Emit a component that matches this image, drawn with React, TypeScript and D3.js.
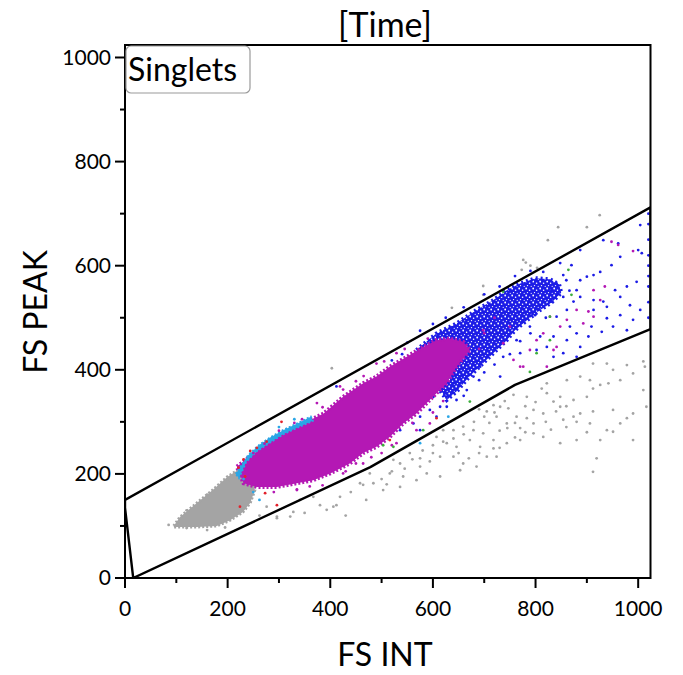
import * as d3 from "d3";

// Layout of the dot plot (pixels)
const W = 683;
const H = 675;
const PLOT = { left: 125, right: 650.5, top: 45, bottom: 578 };
const FONT = "Lato, 'DejaVu Sans', sans-serif";

// Axis values
const DOMAIN: [number, number] = [0, 1024];
const MAJOR_TICKS = [0, 200, 400, 600, 800, 1000];
const MINOR_TICKS = [100, 300, 500, 700, 900];

// Singlets gate (FS INT, FS PEAK)
const GATE: [number, number][] = [
  [0, 150], [1024, 712], [1024, 478], [760, 371], [478, 213], [16, 0], [0, 135],
];

// Dense populations, outlined as regions
const GRAY_CORE: [number, number][] = [
  [95, 100], [107, 117], [140, 144], [171, 169], [199, 194], [218, 206], [244, 211],
  [253, 169], [244, 144], [230, 127], [205, 111], [179, 100], [140, 98], [95, 98],
];
const BLUE_CORE: [number, number][] = [
  [568, 438], [607, 470], [646, 489], [685, 515], [718, 534], [744, 553], [770, 566],
  [800, 576], [828, 574], [846, 564], [850, 548], [832, 530], [805, 512], [782, 494],
  [760, 476], [744, 457], [720, 434], [695, 410], [670, 386], [648, 360], [627, 342],
  [600, 380],
];
const MAGENTA_CORE: [number, number][] = [
  [218, 214], [244, 233], [283, 265], [335, 291], [387, 316], [425, 348], [464, 374],
  [490, 387], [516, 406], [549, 425], [581, 444], [607, 457], [633, 460], [659, 454],
  [672, 438], [646, 406], [627, 374], [607, 355], [588, 336], [568, 316], [542, 297],
  [516, 271], [490, 252], [464, 240], [438, 220], [400, 201], [367, 188], [335, 182],
  [296, 175], [257, 175], [231, 182],
];
const CYAN_BAND: [number, number][] = [
  [216, 200], [240, 236], [262, 256], [283, 270], [310, 285], [338, 298], [362, 310],
  [366, 302], [336, 289], [308, 276], [282, 260], [256, 243], [236, 223], [222, 192],
];

// Sparse events
const GRAY_DOTS: [number, number][] = [
  [912, 412], [939, 412], [951, 400], [978, 409], [1010, 416], [1013, 406], [990, 393],
  [965, 380], [926, 371], [942, 374], [912, 364], [900, 348], [874, 342], [848, 348],
  [822, 355], [812, 364], [835, 339], [848, 329], [796, 323], [783, 307], [763, 310],
  [747, 326], [731, 329], [718, 332], [705, 320], [724, 310], [744, 297], [770, 288],
  [796, 297], [815, 316], [854, 304], [874, 310], [887, 316], [912, 320], [951, 323],
  [978, 307], [990, 316], [1010, 361], [1016, 329], [965, 297], [939, 284], [926, 265],
  [906, 297], [880, 265], [848, 259], [815, 271], [796, 278], [770, 265], [744, 259],
  [718, 265], [698, 278], [679, 284], [659, 291], [640, 284], [620, 284], [607, 271],
  [627, 259], [646, 252], [672, 265], [692, 252], [718, 249], [705, 233], [724, 233],
  [685, 214], [659, 220], [640, 233], [614, 233], [594, 224], [575, 214], [555, 240],
  [536, 220], [523, 227], [516, 201], [542, 195], [568, 188], [588, 201], [614, 195],
  [653, 207], [536, 175], [503, 169], [484, 182], [464, 179], [919, 230], [912, 204],
  [951, 281], [990, 265], [783, 348], [757, 352], [822, 374], [861, 380], [887, 387],
  [906, 380], [276, 137], [296, 115], [328, 127], [367, 156], [393, 131], [412, 140],
  [458, 182], [477, 201], [296, 118], [322, 118], [341, 150], [406, 137], [419, 156],
  [925, 697], [844, 674], [900, 674], [824, 649], [776, 611], [773, 592], [803, 596],
  [781, 606], [790, 600], [637, 519], [698, 544], [698, 561], [403, 403], [85, 102],
  [120, 96], [160, 92], [195, 97], [262, 120], [120, 130], [160, 160], [200, 186],
  [500, 190], [520, 205], [545, 210], [560, 228], [580, 245], [600, 255], [620, 262],
  [640, 268], [660, 276], [680, 300], [700, 310], [720, 318], [740, 340], [690, 324],
  [710, 298], [730, 283], [760, 298], [780, 330], [800, 338], [745, 288], [600, 240],
  [575, 230], [650, 240], [670, 230], [690, 240], [730, 250], [760, 270], [780, 280],
  [820, 300], [840, 320], [860, 330], [880, 300], [900, 280], [860, 290], [830, 285],
  [440, 165], [380, 140], [350, 125], [430, 120], [470, 150], [510, 180],
];
const BLUE_DOTS: [number, number][] = [
  [1004, 678], [1000, 630], [1007, 624], [961, 643], [932, 649], [965, 617], [948, 601],
  [926, 588], [913, 582], [900, 579], [887, 572], [880, 553], [887, 540], [913, 534],
  [932, 531], [913, 515], [939, 521], [965, 540], [984, 524], [997, 569], [978, 560],
  [955, 553], [939, 499], [965, 505], [990, 496], [1004, 515], [951, 483], [978, 476],
  [929, 473], [909, 483], [903, 464], [880, 470], [867, 483], [861, 457], [887, 444],
  [854, 432], [880, 425], [835, 425], [822, 444], [835, 464], [841, 502], [861, 515],
  [874, 531], [854, 540], [887, 630], [870, 601], [848, 605], [854, 582], [841, 566],
  [831, 553], [831, 531], [815, 521], [799, 505], [789, 483], [809, 464], [802, 438],
  [770, 432], [763, 457], [737, 425], [705, 425], [692, 406], [679, 387], [731, 387],
  [601, 348], [614, 361], [640, 374], [627, 387], [653, 387], [666, 361], [646, 342],
  [627, 329], [594, 323], [575, 310], [562, 297], [536, 284], [510, 271], [484, 259],
  [458, 246], [432, 233], [406, 207], [555, 336], [588, 342], [607, 310], [575, 284],
  [614, 329], [412, 368], [1020, 700], [1020, 680], [1020, 650], [1020, 620],
  [1020, 600], [1020, 580], [1020, 560], [1020, 530], [1020, 500], [550, 452],
  [575, 475], [600, 488], [625, 500], [660, 520], [700, 545], [730, 560], [760, 580],
  [790, 590], [815, 588], [860, 572], [866, 552], [820, 500], [790, 470], [770, 455],
  [700, 395], [690, 380], [660, 350], [540, 430], [520, 418], [720, 410], [750, 430],
];
const MAGENTA_DOTS: [number, number][] = [
  [948, 646], [961, 640], [935, 560], [913, 553], [926, 534], [903, 512], [880, 515],
  [861, 496], [848, 483], [893, 489], [913, 502], [835, 438], [802, 457], [770, 406],
  [822, 406], [750, 483], [990, 628], [300, 283], [345, 305], [385, 328], [425, 362],
  [465, 388], [505, 416], [545, 440], [590, 460], [330, 298], [450, 378], [290, 165],
  [335, 170], [385, 178], [430, 205], [480, 232], [520, 255], [560, 298], [600, 318],
  [620, 340], [360, 176], [450, 220], [500, 240], [700, 470], [720, 500], [690, 440],
  [789, 438], [815, 470], [828, 502], [841, 444], [776, 406], [757, 419], [737, 451],
  [698, 476], [529, 259], [568, 284], [594, 297], [464, 220], [425, 201], [335, 169],
  [419, 368], [374, 336], [490, 412], [529, 432], [250, 240], [272, 258],
];
const CYAN_DOTS: [number, number][] = [
  [231, 190], [250, 165], [262, 150], [330, 305], [300, 290], [575, 259], [630, 310],
];
const RED_DOTS: [number, number][] = [
  [305, 300], [257, 250], [231, 228], [221, 212], [234, 195], [224, 137], [296, 140],
  [273, 163], [244, 244], [276, 262], [516, 265], [607, 307],
];
const GREEN_DOTS: [number, number][] = [
  [672, 339], [581, 284], [523, 252], [503, 255], [828, 457], [802, 432], [789, 396],
  [864, 592], [870, 544], [828, 502], [737, 550],
];

const COLORS = {
  gray: "#a4a4a4",
  blue: "#1c1ce6",
  magenta: "#b418b4",
  cyan: "#2aa6e6",
  red: "#e3222c",
  green: "#3caf3c",
};

export default function App() {
  const x = d3.scaleLinear().domain(DOMAIN).range([PLOT.left, PLOT.right]);
  const y = d3.scaleLinear().domain(DOMAIN).range([PLOT.bottom, PLOT.top]);

  const area = d3
    .line<[number, number]>()
    .x((d) => x(d[0]))
    .y((d) => y(d[1]))
    .curve(d3.curveLinearClosed);

  const dots = (data: [number, number][], color: string, key: string) => (
    <g key={key} fill={color}>
      {data.map((d, i) => (
        <circle key={i} cx={x(d[0])} cy={y(d[1])} r={1.4} />
      ))}
    </g>
  );

  return (
    <svg
      width={W}
      height={H}
      style={{ position: "absolute", left: 0, top: 0, background: "#fff" }}
      fontFamily={FONT}
    >
      <defs>
        <clipPath id="plot-clip">
          <rect x={PLOT.left} y={PLOT.top} width={PLOT.right - PLOT.left} height={PLOT.bottom - PLOT.top} />
        </clipPath>
        {/* mottled fill for the dense-but-speckled blue population */}
        <pattern id="blue-speckle" width={7} height={7} patternUnits="userSpaceOnUse">
          <rect width={7} height={7} fill={COLORS.blue} />
          <circle cx={1.2} cy={1.5} r={0.9} fill="#fff" />
          <circle cx={4.6} cy={3.2} r={0.8} fill="#fff" />
          <circle cx={2.5} cy={5.6} r={0.7} fill="#fff" />
          <circle cx={6.2} cy={6.3} r={0.6} fill="#fff" />
        </pattern>
      </defs>

      <text x={385} y={37} textAnchor="middle" fontSize={34}>
        [Time]
      </text>

      <g clipPath="url(#plot-clip)">
        <path d={area(GRAY_CORE) ?? ""} fill={COLORS.gray} stroke={COLORS.gray} strokeWidth={3} strokeDasharray="2 2" />
        {dots(GRAY_DOTS, COLORS.gray, "gray")}
        <path d={area(BLUE_CORE) ?? ""} fill="url(#blue-speckle)" stroke={COLORS.blue} strokeWidth={4} strokeDasharray="2 3" />
        {dots(BLUE_DOTS, COLORS.blue, "blue")}
        <path d={area(MAGENTA_CORE) ?? ""} fill={COLORS.magenta} stroke={COLORS.magenta} strokeWidth={4} strokeDasharray="2 2" />
        <path d={area(CYAN_BAND) ?? ""} fill={COLORS.cyan} stroke={COLORS.cyan} strokeWidth={2} strokeDasharray="2 2" />
        {dots(MAGENTA_DOTS, COLORS.magenta, "magenta")}
        {dots(CYAN_DOTS, COLORS.cyan, "cyan")}
        {dots(RED_DOTS, COLORS.red, "red")}
        {dots(GREEN_DOTS, COLORS.green, "green")}
        <path d={area(GATE) ?? ""} fill="none" stroke="#000" strokeWidth={2.4} strokeLinejoin="round" />
      </g>

      {/* frame */}
      <rect
        x={PLOT.left}
        y={PLOT.top}
        width={PLOT.right - PLOT.left}
        height={PLOT.bottom - PLOT.top}
        fill="none"
        stroke="#000"
        strokeWidth={2}
      />

      {/* x axis ticks */}
      {MAJOR_TICKS.map((t) => (
        <g key={`x${t}`}>
          <line x1={x(t)} x2={x(t)} y1={PLOT.bottom} y2={PLOT.bottom + 10} stroke="#000" strokeWidth={2} />
          <text x={x(t)} y={PLOT.bottom + 38} textAnchor="middle" fontSize={21}>
            {t}
          </text>
        </g>
      ))}
      {MINOR_TICKS.map((t) => (
        <line key={`xm${t}`} x1={x(t)} x2={x(t)} y1={PLOT.bottom} y2={PLOT.bottom + 5} stroke="#000" strokeWidth={2} />
      ))}

      {/* y axis ticks */}
      {MAJOR_TICKS.map((t) => (
        <g key={`y${t}`}>
          <line x1={PLOT.left - 10} x2={PLOT.left} y1={y(t)} y2={y(t)} stroke="#000" strokeWidth={2} />
          <text x={PLOT.left - 14} y={y(t)} dy="0.35em" textAnchor="end" fontSize={21}>
            {t}
          </text>
        </g>
      ))}
      {MINOR_TICKS.map((t) => (
        <line key={`ym${t}`} x1={PLOT.left - 5} x2={PLOT.left} y1={y(t)} y2={y(t)} stroke="#000" strokeWidth={2} />
      ))}

      <text x={385} y={666} textAnchor="middle" fontSize={32}>
        FS INT
      </text>
      <text transform={`translate(47,312) rotate(-90)`} textAnchor="middle" fontSize={32}>
        FS PEAK
      </text>

      {/* gate label */}
      <rect x={PLOT.left + 1} y={PLOT.top + 1} width={124} height={47} rx={5} fill="#fff" stroke="#9a9a9a" strokeWidth={1.2} />
      <text x={PLOT.left + 3} y={81} fontSize={32}>
        Singlets
      </text>
    </svg>
  );
}
